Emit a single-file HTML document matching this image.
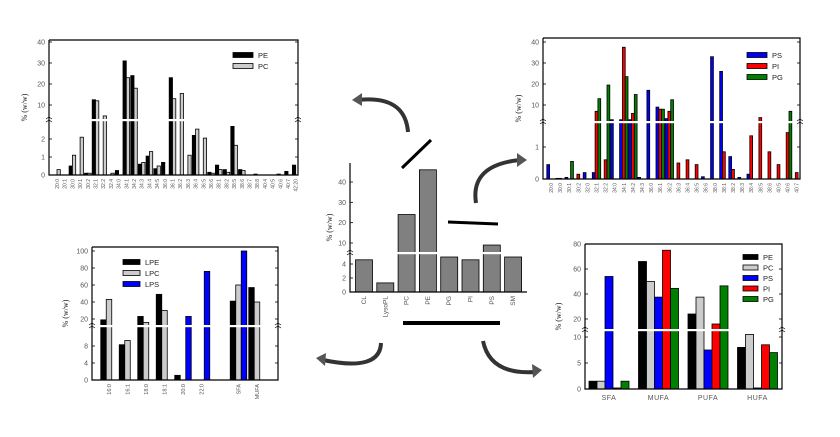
<!DOCTYPE html>
<html><head><meta charset="utf-8"><style>
html,body{margin:0;padding:0;background:#fff;}
svg{display:block;font-family:"Liberation Sans",sans-serif;}
</style></head><body>
<svg id="fig" width="840" height="437" viewBox="0 0 840 437" xmlns="http://www.w3.org/2000/svg">
<g id="deco">
<line x1="402" y1="168" x2="431" y2="140" stroke="#000" stroke-width="3"/>
<line x1="448" y1="222" x2="498" y2="224" stroke="#000" stroke-width="3"/>
<line x1="403" y1="323" x2="500" y2="323" stroke="#000" stroke-width="4"/>
<path d="M408,132 Q405,95 358,100" fill="none" stroke="#333" stroke-width="4"/>
<polygon points="352,100 362,93 362,106" fill="#555"/>
<path d="M476,203 Q470,165 520,160" fill="none" stroke="#333" stroke-width="4"/>
<polygon points="527,160 517,153 517,167" fill="#555"/>
<path d="M381,343 Q380,372 323,360" fill="none" stroke="#333" stroke-width="4"/>
<polygon points="316,358 326,353 325,366" fill="#555"/>
<path d="M483,341 Q490,375 535,372" fill="none" stroke="#333" stroke-width="4"/>
<polygon points="542,370 532,364 533,378" fill="#555"/>
</g>
</svg>
<script>
// ---- Panel A data (top-left, PE/PC species) ----
var aCats=["20:0","20:1","30:0","30:1","30:2","32:1","32:2","32:4","34:0","34:1","34:2","34:3","34:4","34:5","36:0","36:1","36:2","36:3","36:4","36:5","36:6","38:1","38:2","38:5","38:6","38:7","38:8","40:4","40:5","40:6","40:7","42:20"];
var aPE=[0,0,0.5,0,0.1,12.5,0,0,0.25,31,24,0.6,1.05,0.35,0.7,23,0,0,2.2,0,0.15,0.55,0.3,2.7,0.3,0,0.05,0,0,0.05,0.2,0.55];
var aPC=[0.3,0,1.1,2.1,0.1,12,4.8,0.1,0,23,18,0.7,1.3,0.5,0,13,15.5,1.1,2.55,2.05,0.1,0.3,0.15,1.65,0.25,0,0,0,0,0,0,0];
var aLowTicks=[0,1,2];var aUpTicks=[10,20,30,40];
// ---- Panel B data (top-right, PS/PI/PG species) ----
var bCats=["20:0","30:0","30:1","30:2","32:0","32:1","32:2","34:0","34:1","34:2","34:3","36:0","36:1","36:2","36:3","36:4","36:5","36:6","38:0","38:1","38:2","38:3","38:4","38:5","38:6","40:5","40:6","40:7"];
var bPS=[0.45,0.02,0.05,0,0.2,0.2,0,3,3,3,0.05,17,9,3.5,0,0,0,0.07,33,26,0.7,0.05,0.15,0,0,0,0,0];
var bPI=[0,0.02,0,0.15,0,7,0.6,0,37.5,6,0,0,8,7,0.5,0.6,0.45,0,0,0.85,0.3,0,1.35,4,0.85,0.45,1.45,0.2];
var bPG=[0,0,0.55,0,0,13,19.5,0,23.5,15,0,0,8,12.5,0,0,0,0,0,0,0,0,0,0,0,0,7,0];
var bLowTicks=[0,1];var bUpTicks=[10,20,30,40];
// ---- Center panel data (class composition) ----
var cCats=["CL","LysoPL","PC","PE","PG","PI","PS","SM"];
var cVals=[4.6,1.3,24,46,5,4.6,9,5];
var cLowTicks=[0,2,4];var cUpTicks=[10,20,30,40];
// ---- Panel D data (lyso species) ----
var dCats=["16:0","16:1","18:0","18:1","20:0","22:0","","SFA","MUFA"];
var dLPE=[19,8.3,23,49,1.1,0,0,41,57];
var dLPC=[43,9.3,16,30,0,0,0,60,40];
var dLPS=[0,0,0,0,23,76,0,100,0];
var dLowTicks=[0,4,8];var dUpTicks=[20,40,60,80,100];
// ---- Panel E data (FA classes) ----
var eCats=["SFA","MUFA","PUFA","HUFA"];
var ePE=[1.5,66,24,8];
var ePC=[1.5,50,37.5,10.5];
var ePS=[54,37.5,7.5,0.2];
var ePI=[0.2,75,16,8.5];
var ePG=[1.5,44.5,46.5,7];
var eLowTicks=[0,5,10];var eUpTicks=[20,40,60,80];

var NS="http://www.w3.org/2000/svg";
var svg=document.getElementById('fig');
function mk(tag,attrs,parent){var e=document.createElementNS(NS,tag);for(var k in attrs)e.setAttribute(k,attrs[k]);(parent||svg).appendChild(e);return e;}

function panel(cfg,cats,series){
  var g=mk('g',{});
  
  
  // piecewise y scale
  var lk=(cfg.bottom-cfg.lowRefY)/cfg.lowRefV;
  var uk=(cfg.upAY-cfg.upBY)/(cfg.upBV-cfg.upAV);
  function y(v){
    if(v<=cfg.lowMax) return cfg.bottom-v*lk;
    var yy=cfg.upAY-(v-cfg.upAV)*uk;
    return Math.min(yy,cfg.breakY-1);
  }
  function xc(i){return cfg.x0+i*cfg.step;}
  var ns=series.length;
  // bars
  for(var s=0;s<ns;s++){
    var vals=series[s].vals;
    for(var i=0;i<cats.length;i++){
      var v=vals[i]; if(!(v>0)) continue;
      var x=xc(i)-ns*cfg.bw/2+s*cfg.bw;
      var yt=y(v);
      var r=mk('rect',{x:x,y:yt,width:cfg.bw,height:cfg.bottom-yt,fill:series[s].color,stroke:'#000','stroke-width':0.8},g);
      
      
    }
  }
  // break gap
  var br=mk('rect',{x:cfg.left+1,y:cfg.breakY-1,width:cfg.right-cfg.left-2,height:2.2,fill:'#fff'},g);
  
  
  // axes frame
  var fr=mk('path',{d:'M'+cfg.left+','+cfg.top+'V'+cfg.bottom+'H'+cfg.right+(cfg.box?'V'+cfg.top+'H'+cfg.left:''),fill:'none',stroke:'#000','stroke-width':1.2},g);
  
  
  [cfg.left,cfg.right].forEach(function(ax){
    if(ax===cfg.right&&!cfg.box)return;
    var bm=mk('path',{d:'M'+(ax-3)+','+(cfg.breakY+2)+'l3,-2l3,2M'+(ax-3)+','+(cfg.breakY-1)+'l3,-2l3,2',fill:'none',stroke:'#000','stroke-width':0.7},g);
    
    
  });
  // y ticks
  var ticks=cfg.lowTicks.concat(cfg.upTicks);
  ticks.forEach(function(t){
    var yy=y(t);
    var tk=mk('line',{x1:cfg.left,x2:cfg.left+3,y1:yy,y2:yy,stroke:'#000','stroke-width':0.8},g);
    
    
    if(cfg.box){var tr=mk('line',{x1:cfg.right,x2:cfg.right-3,y1:yy,y2:yy,stroke:'#000','stroke-width':0.8},g);
      
      }
    var tl=mk('text',{x:cfg.left-4,y:yy+2.5,'text-anchor':'end','font-size':cfg.fs||7,fill:'#555'},g);
    tl.textContent=t;
    
    
  });
  // y title
  var yt2=mk('text',{transform:'translate('+(cfg.left-cfg.ytOff)+','+((cfg.top+cfg.bottom)/2)+') rotate(-90)','text-anchor':'middle','font-size':8,fill:'#222','font-family':'Liberation Serif, serif'},g);
  yt2.textContent='% (w/w)';
  
  
  // x labels
  cats.forEach(function(c,i){
    if(!c)return;
    var xl;
    if(cfg.rot){
      xl=mk('text',{transform:'translate('+(xc(i)+2)+','+(cfg.bottom+4)+') rotate(-90)','text-anchor':'end','font-size':cfg.xfs||5,fill:'#555'},g);
    } else {
      xl=mk('text',{x:xc(i),y:cfg.bottom+11,'text-anchor':'middle','font-size':7,fill:'#555','letter-spacing':'0.5'},g);
    }
    xl.textContent=c;
    
    
  });
  // legend
  if(cfg.leg){
    series.forEach(function(s,k){
      var ly=cfg.leg.y+k*cfg.leg.dy;
      var lb=mk('rect',{x:cfg.leg.x,y:ly-2.5,width:cfg.leg.w,height:5,fill:s.color,stroke:'#000','stroke-width':0.8},g);
      
      
      var lt=mk('text',{x:cfg.leg.x+cfg.leg.w+5,y:ly+3,'font-size':7.5,fill:'#222'},g);
      lt.textContent=s.label;
      
      
    });
  }
}

panel({name:'panel-pe-pc-species',left:49,right:298,top:40,bottom:175,box:true,breakY:120,lowMax:3,lowRefV:1,lowRefY:157,upAV:10,upAY:105,upBV:40,upBY:42,
  lowTicks:aLowTicks,upTicks:aUpTicks,x0:57,step:7.7,bw:3.3,rot:true,ytOff:22,leg:{x:233,y:55,dy:11,w:20}},
  aCats,[{label:'PE',color:'#000',vals:aPE},{label:'PC',color:'#ccc',vals:aPC}]);

panel({name:'panel-ps-pi-pg-species',left:543,right:800,top:38,bottom:179,box:true,breakY:122,lowMax:1.75,lowRefV:1,lowRefY:147,upAV:10,upAY:105,upBV:40,upBY:42,
  lowTicks:bLowTicks,upTicks:bUpTicks,x0:551,step:9.1,bw:2.8,rot:true,ytOff:22,leg:{x:747,y:55,dy:11,w:20}},
  bCats,[{label:'PS',color:'#0000ff',vals:bPS},{label:'PI',color:'#ff0000',vals:bPI},{label:'PG',color:'#008000',vals:bPG}]);

panel({name:'panel-class-composition',left:350,right:527,top:163,bottom:292,box:false,breakY:253,lowMax:5.6,lowRefV:4,lowRefY:264,upAV:10,upAY:243,upBV:40,upBY:182,
  lowTicks:cLowTicks,upTicks:cUpTicks,x0:364,step:21.3,bw:17,rot:true,xfs:6.5,ytOff:18},
  cCats,[{label:'Class',color:'#808080',vals:cVals}]);

panel({name:'panel-lyso-species',left:92,right:278,top:247,bottom:380,box:true,breakY:326,lowMax:12,lowRefV:4,lowRefY:363,upAV:20,upAY:319,upBV:100,upBY:251,
  lowTicks:dLowTicks,upTicks:dUpTicks,x0:109,step:18.5,bw:5.5,rot:true,xfs:5.5,ytOff:24,leg:{x:123,y:262,dy:11,w:17}},
  dCats,[{label:'LPE',color:'#000',vals:dLPE},{label:'LPC',color:'#ccc',vals:dLPC},{label:'LPS',color:'#0000ff',vals:dLPS}]);

panel({name:'panel-fa-classes',left:585,right:782,top:244,bottom:389,box:true,breakY:330,lowMax:11.3,lowRefV:5,lowRefY:363,upAV:20,upAY:319,upBV:80,upBY:244,
  lowTicks:eLowTicks,upTicks:eUpTicks,x0:609,step:49.5,bw:8,rot:false,ytOff:24,leg:{x:743,y:257,dy:10.5,w:15}},
  eCats,[{label:'PE',color:'#000',vals:ePE},{label:'PC',color:'#ccc',vals:ePC},{label:'PS',color:'#0000ff',vals:ePS},{label:'PI',color:'#ff0000',vals:ePI},{label:'PG',color:'#008000',vals:ePG}]);
</script>
</body></html>
